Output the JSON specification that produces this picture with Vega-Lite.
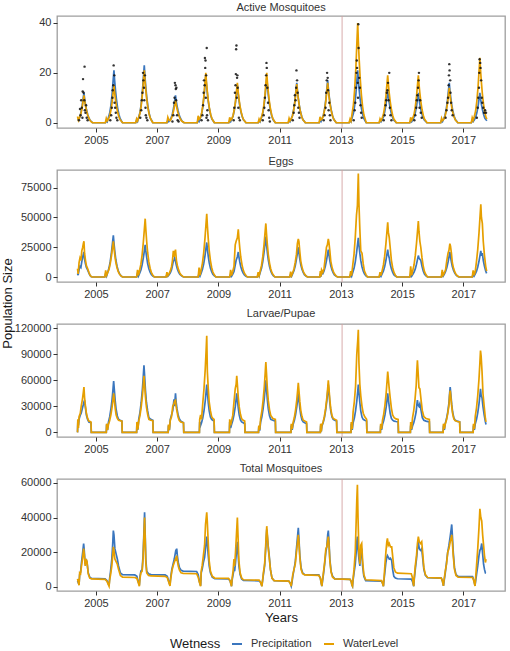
{
"$schema":"https://vega.github.io/schema/vega-lite/v6.json",
"padding":{"left":0,"top":0,"right":2,"bottom":0},
"spacing":42,
"bounds":"flush",
"datasets":{
"vline":[{"t":2013.04}],
"act":[
{"t":2004.4,"P":1,"W":2.5},{"t":2004.43,"P":1.5,"W":1},{"t":2004.47,"P":2,"W":2.2},{"t":2004.51,"P":4,"W":3.6},{"t":2004.55,"P":6.6,"W":6},{"t":2004.58,"P":9.4,"W":8.6},{"t":2004.61,"P":12,"W":11},{"t":2004.63,"P":9.8,"W":9},{"t":2004.66,"P":7.4,"W":6.8},{"t":2004.69,"P":5.4,"W":5},{"t":2004.73,"P":3.4,"W":3.1},{"t":2004.77,"P":1.9,"W":1.8},{"t":2004.81,"P":1,"W":0.9},{"t":2004.86,"P":0.4,"W":0.3},{"t":2004.89,"P":0,"W":0},
{"t":2005.31,"P":0,"W":0},{"t":2005.34,"P":0.8,"W":1.8},{"t":2005.37,"P":0.4,"W":0.8},{"t":2005.41,"P":2.1,"W":1.5},{"t":2005.45,"P":3.8,"W":2.7},{"t":2005.49,"P":6.9,"W":5},{"t":2005.53,"P":11.5,"W":8.2},{"t":2005.56,"P":16.4,"W":11.7},{"t":2005.59,"P":21,"W":15},{"t":2005.61,"P":17.2,"W":12.3},{"t":2005.64,"P":13,"W":9.3},{"t":2005.67,"P":9.5,"W":6.8},{"t":2005.71,"P":5.9,"W":4.2},{"t":2005.75,"P":3.4,"W":2.4},{"t":2005.79,"P":1.7,"W":1.2},{"t":2005.84,"P":0.6,"W":0.5},{"t":2005.87,"P":0,"W":0},
{"t":2006.3,"P":0,"W":0},{"t":2006.33,"P":1,"W":1.6},{"t":2006.36,"P":0.5,"W":0.8},{"t":2006.4,"P":2.3,"W":2.1},{"t":2006.44,"P":4.1,"W":3.8},{"t":2006.48,"P":7.6,"W":6.9},{"t":2006.52,"P":12.7,"W":11.6},{"t":2006.55,"P":17.9,"W":16.4},{"t":2006.58,"P":23,"W":21},{"t":2006.6,"P":18.9,"W":17.2},{"t":2006.63,"P":14.3,"W":13},{"t":2006.66,"P":10.4,"W":9.5},{"t":2006.7,"P":6.4,"W":5.9},{"t":2006.74,"P":3.7,"W":3.4},{"t":2006.78,"P":1.8,"W":1.7},{"t":2006.83,"P":0.7,"W":0.6},{"t":2006.86,"P":0,"W":0},
{"t":2007.32,"P":0,"W":0},{"t":2007.35,"P":1,"W":2.2},{"t":2007.38,"P":0.5,"W":1.2},{"t":2007.42,"P":1.1,"W":0.9},{"t":2007.46,"P":2,"W":1.6},{"t":2007.5,"P":3.6,"W":3},{"t":2007.54,"P":6,"W":5},{"t":2007.57,"P":8.6,"W":7},{"t":2007.6,"P":11,"W":9},{"t":2007.62,"P":9,"W":7.4},{"t":2007.65,"P":6.8,"W":5.6},{"t":2007.68,"P":5,"W":4},{"t":2007.72,"P":3.1,"W":2.5},{"t":2007.76,"P":1.8,"W":1.4},{"t":2007.8,"P":0.9,"W":0.7},{"t":2007.85,"P":0.3,"W":0.3},{"t":2007.88,"P":0,"W":0},
{"t":2008.31,"P":0,"W":0},{"t":2008.34,"P":1,"W":2.8},{"t":2008.37,"P":0.5,"W":1.4},{"t":2008.41,"P":1.9,"W":2},{"t":2008.45,"P":3.4,"W":3.6},{"t":2008.49,"P":6.3,"W":6.6},{"t":2008.53,"P":10.5,"W":11},{"t":2008.56,"P":14.8,"W":15.6},{"t":2008.59,"P":19,"W":20},{"t":2008.61,"P":15.6,"W":16.4},{"t":2008.64,"P":11.8,"W":12.4},{"t":2008.67,"P":8.6,"W":9},{"t":2008.71,"P":5.3,"W":5.6},{"t":2008.75,"P":3,"W":3.2},{"t":2008.79,"P":1.5,"W":1.6},{"t":2008.84,"P":0.6,"W":0.6},{"t":2008.87,"P":0,"W":0},
{"t":2009.34,"P":0,"W":0},{"t":2009.37,"P":0.8,"W":2.2},{"t":2009.4,"P":0.4,"W":1},{"t":2009.44,"P":1.5,"W":1.6},{"t":2009.48,"P":2.7,"W":2.9},{"t":2009.52,"P":5,"W":5.3},{"t":2009.56,"P":8.3,"W":8.8},{"t":2009.59,"P":11.7,"W":12.5},{"t":2009.62,"P":15,"W":16},{"t":2009.64,"P":12.3,"W":13.1},{"t":2009.67,"P":9.3,"W":9.9},{"t":2009.7,"P":6.8,"W":7.2},{"t":2009.74,"P":4.2,"W":4.5},{"t":2009.78,"P":2.4,"W":2.6},{"t":2009.82,"P":1.2,"W":1.3},{"t":2009.87,"P":0.5,"W":0.5},{"t":2009.9,"P":0,"W":0},
{"t":2010.3,"P":0,"W":0},{"t":2010.33,"P":0.8,"W":1.5},{"t":2010.36,"P":0.4,"W":0.7},{"t":2010.4,"P":1.8,"W":2},{"t":2010.44,"P":3.2,"W":3.6},{"t":2010.48,"P":5.9,"W":6.6},{"t":2010.52,"P":9.9,"W":11},{"t":2010.55,"P":14,"W":15.6},{"t":2010.58,"P":18,"W":20},{"t":2010.6,"P":14.8,"W":16.4},{"t":2010.63,"P":11.2,"W":12.4},{"t":2010.66,"P":8.1,"W":9},{"t":2010.7,"P":5,"W":5.6},{"t":2010.74,"P":2.9,"W":3.2},{"t":2010.78,"P":1.4,"W":1.6},{"t":2010.83,"P":0.5,"W":0.6},{"t":2010.86,"P":0,"W":0},
{"t":2011.28,"P":0,"W":0},{"t":2011.31,"P":0.8,"W":1.8},{"t":2011.34,"P":0.4,"W":0.8},{"t":2011.38,"P":1.6,"W":1.6},{"t":2011.42,"P":2.9,"W":2.8},{"t":2011.46,"P":5.3,"W":5.1},{"t":2011.5,"P":8.8,"W":8.5},{"t":2011.53,"P":12.5,"W":12.1},{"t":2011.56,"P":16,"W":15.5},{"t":2011.58,"P":13.1,"W":12.7},{"t":2011.61,"P":9.9,"W":9.6},{"t":2011.64,"P":7.2,"W":7},{"t":2011.68,"P":4.5,"W":4.3},{"t":2011.72,"P":2.6,"W":2.5},{"t":2011.76,"P":1.3,"W":1.2},{"t":2011.81,"P":0.5,"W":0.5},{"t":2011.84,"P":0,"W":0},
{"t":2012.29,"P":0,"W":0},{"t":2012.32,"P":1,"W":2.4},{"t":2012.35,"P":0.5,"W":1.2},{"t":2012.39,"P":1.7,"W":1.6},{"t":2012.43,"P":3.1,"W":2.9},{"t":2012.47,"P":5.6,"W":5.3},{"t":2012.51,"P":9.4,"W":8.8},{"t":2012.54,"P":13.3,"W":12.5},{"t":2012.57,"P":17,"W":16},{"t":2012.59,"P":13.9,"W":13.1},{"t":2012.62,"P":10.5,"W":9.9},{"t":2012.65,"P":7.7,"W":7.2},{"t":2012.69,"P":4.8,"W":4.5},{"t":2012.73,"P":2.7,"W":2.6},{"t":2012.77,"P":1.4,"W":1.3},{"t":2012.82,"P":0.5,"W":0.5},{"t":2012.85,"P":0,"W":0},
{"t":2013.27,"P":0,"W":0},{"t":2013.3,"P":0.8,"W":1.5},{"t":2013.33,"P":0.4,"W":0.7},{"t":2013.37,"P":2.1,"W":4},{"t":2013.41,"P":3.8,"W":7.2},{"t":2013.45,"P":6.9,"W":13.2},{"t":2013.49,"P":11.5,"W":22},{"t":2013.52,"P":16.4,"W":31.2},{"t":2013.55,"P":21,"W":40},{"t":2013.57,"P":17.2,"W":32.8},{"t":2013.6,"P":13,"W":24.8},{"t":2013.63,"P":9.5,"W":18},{"t":2013.67,"P":5.9,"W":11.2},{"t":2013.71,"P":3.4,"W":6.4},{"t":2013.75,"P":1.7,"W":3.2},{"t":2013.8,"P":0.6,"W":1.2},{"t":2013.83,"P":0,"W":0},
{"t":2014.25,"P":0,"W":0},{"t":2014.28,"P":0.8,"W":1.6},{"t":2014.31,"P":0.4,"W":0.8},{"t":2014.35,"P":1.3,"W":1.9},{"t":2014.39,"P":2.3,"W":3.4},{"t":2014.43,"P":4.3,"W":6.3},{"t":2014.47,"P":7.2,"W":10.5},{"t":2014.5,"P":10.1,"W":14.8},{"t":2014.53,"P":13,"W":19},{"t":2014.55,"P":10.7,"W":15.6},{"t":2014.58,"P":8.1,"W":11.8},{"t":2014.61,"P":5.9,"W":8.6},{"t":2014.65,"P":3.6,"W":5.3},{"t":2014.69,"P":2.1,"W":3},{"t":2014.73,"P":1,"W":1.5},{"t":2014.78,"P":0.4,"W":0.6},{"t":2014.81,"P":0,"W":0},
{"t":2015.25,"P":0,"W":0},{"t":2015.28,"P":0.8,"W":2.2},{"t":2015.31,"P":0.4,"W":1},{"t":2015.35,"P":1.2,"W":1.9},{"t":2015.39,"P":2.2,"W":3.4},{"t":2015.43,"P":4,"W":6.3},{"t":2015.47,"P":6.6,"W":10.5},{"t":2015.5,"P":9.4,"W":14.8},{"t":2015.53,"P":12,"W":19},{"t":2015.55,"P":9.8,"W":15.6},{"t":2015.58,"P":7.4,"W":11.8},{"t":2015.61,"P":5.4,"W":8.6},{"t":2015.65,"P":3.4,"W":5.3},{"t":2015.69,"P":1.9,"W":3},{"t":2015.73,"P":1,"W":1.5},{"t":2015.78,"P":0.4,"W":0.6},{"t":2015.81,"P":0,"W":0},
{"t":2016.26,"P":0,"W":0},{"t":2016.29,"P":1,"W":1.8},{"t":2016.32,"P":0.5,"W":0.9},{"t":2016.36,"P":1.6,"W":1.4},{"t":2016.4,"P":2.9,"W":2.5},{"t":2016.44,"P":5.3,"W":4.6},{"t":2016.48,"P":8.8,"W":7.7},{"t":2016.51,"P":12.5,"W":10.9},{"t":2016.54,"P":16,"W":14},{"t":2016.56,"P":13.1,"W":11.5},{"t":2016.59,"P":9.9,"W":8.7},{"t":2016.62,"P":7.2,"W":6.3},{"t":2016.66,"P":4.5,"W":3.9},{"t":2016.7,"P":2.6,"W":2.2},{"t":2016.74,"P":1.3,"W":1.1},{"t":2016.79,"P":0.5,"W":0.4},{"t":2016.82,"P":0,"W":0},
{"t":2017.26,"P":0,"W":0},{"t":2017.29,"P":1,"W":2},{"t":2017.32,"P":0.5,"W":1},{"t":2017.36,"P":1.2,"W":2.6},{"t":2017.4,"P":2.2,"W":4.7},{"t":2017.44,"P":4,"W":8.6},{"t":2017.48,"P":6.6,"W":14.3},{"t":2017.51,"P":9.4,"W":20.3},{"t":2017.54,"P":12,"W":26},{"t":2017.56,"P":9.8,"W":21.3},{"t":2017.59,"P":7.4,"W":16.1},{"t":2017.62,"P":5.4,"W":11.7},{"t":2017.66,"P":3.4,"W":7.3},{"t":2017.7,"P":1.9,"W":4.2},{"t":2017.74,"P":1.2,"W":2.1},{"t":2017.77,"P":0.8,"W":1.5}
],
"obs":[
{"t":2004.45,"n":1},{"t":2004.48,"n":5.5},{"t":2004.5,"n":3},{"t":2004.52,"n":9},{"t":2004.54,"n":6},{"t":2004.56,"n":2},{"t":2004.57,"n":12.5},{"t":2004.58,"n":17.5},{"t":2004.6,"n":12},{"t":2004.62,"n":9},{"t":2004.63,"n":22.5},{"t":2004.64,"n":5},{"t":2004.66,"n":4},{"t":2004.68,"n":7},{"t":2004.7,"n":2},{"t":2004.73,"n":1},
{"t":2005.47,"n":1},{"t":2005.5,"n":3},{"t":2005.52,"n":6},{"t":2005.54,"n":10},{"t":2005.55,"n":13},{"t":2005.57,"n":15},{"t":2005.58,"n":23},{"t":2005.6,"n":19},{"t":2005.61,"n":8},{"t":2005.63,"n":6},{"t":2005.65,"n":4},{"t":2005.67,"n":2},{"t":2005.7,"n":1},
{"t":2006.45,"n":2},{"t":2006.48,"n":5},{"t":2006.5,"n":9},{"t":2006.52,"n":12},{"t":2006.54,"n":20},{"t":2006.55,"n":17},{"t":2006.57,"n":14},{"t":2006.58,"n":9},{"t":2006.6,"n":19},{"t":2006.62,"n":6},{"t":2006.63,"n":3},{"t":2006.65,"n":2},{"t":2006.68,"n":1},
{"t":2007.5,"n":0.5},{"t":2007.53,"n":3},{"t":2007.55,"n":8},{"t":2007.57,"n":10},{"t":2007.58,"n":16},{"t":2007.6,"n":15},{"t":2007.61,"n":13.5},{"t":2007.62,"n":9},{"t":2007.63,"n":14},{"t":2007.65,"n":3},{"t":2007.67,"n":1},{"t":2007.7,"n":0.5},
{"t":2008.45,"n":1},{"t":2008.48,"n":3},{"t":2008.5,"n":7},{"t":2008.52,"n":12},{"t":2008.53,"n":17},{"t":2008.55,"n":15},{"t":2008.56,"n":26},{"t":2008.57,"n":22},{"t":2008.58,"n":25},{"t":2008.59,"n":10},{"t":2008.6,"n":19},{"t":2008.61,"n":2},{"t":2008.62,"n":30},{"t":2008.63,"n":3},{"t":2008.64,"n":5},{"t":2008.66,"n":1},
{"t":2009.5,"n":1},{"t":2009.52,"n":6},{"t":2009.54,"n":12},{"t":2009.56,"n":15},{"t":2009.57,"n":19.5},{"t":2009.58,"n":29.5},{"t":2009.59,"n":31},{"t":2009.6,"n":10},{"t":2009.61,"n":18},{"t":2009.62,"n":19},{"t":2009.63,"n":14},{"t":2009.65,"n":6},{"t":2009.67,"n":2},{"t":2009.7,"n":1},
{"t":2010.45,"n":1},{"t":2010.48,"n":3},{"t":2010.5,"n":6},{"t":2010.52,"n":10},{"t":2010.54,"n":15},{"t":2010.56,"n":19},{"t":2010.57,"n":24},{"t":2010.58,"n":22},{"t":2010.6,"n":14},{"t":2010.62,"n":8},{"t":2010.64,"n":5},{"t":2010.66,"n":2},{"t":2010.68,"n":0.5},
{"t":2011.43,"n":1},{"t":2011.46,"n":4},{"t":2011.48,"n":7},{"t":2011.5,"n":11},{"t":2011.52,"n":9},{"t":2011.54,"n":14},{"t":2011.55,"n":21},{"t":2011.57,"n":17},{"t":2011.59,"n":12},{"t":2011.61,"n":6},{"t":2011.63,"n":4},{"t":2011.65,"n":2},
{"t":2012.44,"n":1},{"t":2012.47,"n":3},{"t":2012.5,"n":6},{"t":2012.52,"n":12},{"t":2012.54,"n":17},{"t":2012.55,"n":20},{"t":2012.57,"n":18},{"t":2012.58,"n":13},{"t":2012.6,"n":5},{"t":2012.62,"n":8},{"t":2012.64,"n":3},{"t":2012.66,"n":1},
{"t":2013.42,"n":1},{"t":2013.45,"n":5},{"t":2013.47,"n":8},{"t":2013.49,"n":14},{"t":2013.51,"n":20},{"t":2013.52,"n":25},{"t":2013.53,"n":22},{"t":2013.55,"n":16},{"t":2013.56,"n":10},{"t":2013.57,"n":39.5},{"t":2013.58,"n":30},{"t":2013.6,"n":18},{"t":2013.62,"n":14},{"t":2013.64,"n":7},{"t":2013.66,"n":4},{"t":2013.68,"n":2},
{"t":2014.4,"n":1},{"t":2014.43,"n":3},{"t":2014.46,"n":7},{"t":2014.48,"n":9},{"t":2014.5,"n":12},{"t":2014.52,"n":13},{"t":2014.54,"n":16},{"t":2014.56,"n":9},{"t":2014.58,"n":20},{"t":2014.6,"n":6},{"t":2014.62,"n":3},{"t":2014.65,"n":1},
{"t":2015.4,"n":1},{"t":2015.43,"n":3},{"t":2015.46,"n":6},{"t":2015.48,"n":9},{"t":2015.5,"n":11},{"t":2015.52,"n":14},{"t":2015.54,"n":17},{"t":2015.55,"n":20},{"t":2015.57,"n":6},{"t":2015.59,"n":9},{"t":2015.61,"n":4},{"t":2015.64,"n":2},
{"t":2016.42,"n":2},{"t":2016.45,"n":5},{"t":2016.48,"n":8},{"t":2016.5,"n":10},{"t":2016.52,"n":15},{"t":2016.53,"n":19},{"t":2016.54,"n":23.5},{"t":2016.55,"n":21},{"t":2016.57,"n":17},{"t":2016.58,"n":12},{"t":2016.6,"n":8},{"t":2016.62,"n":5},{"t":2016.65,"n":3},
{"t":2017.44,"n":2},{"t":2017.47,"n":6},{"t":2017.49,"n":10},{"t":2017.51,"n":14},{"t":2017.52,"n":20},{"t":2017.53,"n":25.5},{"t":2017.55,"n":24},{"t":2017.56,"n":22},{"t":2017.58,"n":17},{"t":2017.6,"n":10},{"t":2017.62,"n":8},{"t":2017.65,"n":6},{"t":2017.68,"n":4},{"t":2017.71,"n":5},{"t":2017.74,"n":4}
],
"egg":[
{"t":2004.4,"P":3000,"W":7000},{"t":2004.42,"P":1500,"W":2500},{"t":2004.45,"P":6000,"W":12000},{"t":2004.48,"P":9000,"W":16000},{"t":2004.51,"P":8000,"W":14000},{"t":2004.54,"P":13000,"W":22000},{"t":2004.57,"P":17000,"W":25000},{"t":2004.59,"P":19000,"W":28000},{"t":2004.61,"P":21000,"W":30000},{"t":2004.63,"P":15000,"W":20000},{"t":2004.66,"P":11000,"W":14000},{"t":2004.69,"P":8000,"W":9500},{"t":2004.73,"P":6000,"W":7000},{"t":2004.77,"P":3500,"W":4000},{"t":2004.81,"P":1200,"W":1500},{"t":2004.85,"P":200,"W":300},{"t":2004.88,"P":0,"W":0},
{"t":2005.29,"P":0,"W":0},{"t":2005.32,"P":3000,"W":5500},{"t":2005.35,"P":800,"W":1500},{"t":2005.39,"P":4200,"W":4000},{"t":2005.43,"P":7700,"W":6600},{"t":2005.47,"P":13300,"W":11400},{"t":2005.51,"P":21000,"W":18000},{"t":2005.54,"P":28000,"W":24000},{"t":2005.57,"P":35000,"W":30000},{"t":2005.59,"P":28700,"W":24600},{"t":2005.62,"P":21000,"W":18000},{"t":2005.65,"P":14700,"W":12600},{"t":2005.69,"P":9100,"W":7800},{"t":2005.73,"P":5200,"W":4500},{"t":2005.77,"P":2800,"W":2400},{"t":2005.82,"P":1000,"W":900},{"t":2005.87,"P":0,"W":0},
{"t":2006.33,"P":0,"W":0},{"t":2006.36,"P":3000,"W":6000},{"t":2006.39,"P":800,"W":1500},{"t":2006.43,"P":3200,"W":5900},{"t":2006.47,"P":5900,"W":10800},{"t":2006.51,"P":10300,"W":18600},{"t":2006.55,"P":16200,"W":29400},{"t":2006.58,"P":21600,"W":39200},{"t":2006.61,"P":27000,"W":49000},{"t":2006.63,"P":22100,"W":40200},{"t":2006.66,"P":16200,"W":29400},{"t":2006.69,"P":11300,"W":20600},{"t":2006.73,"P":7000,"W":12700},{"t":2006.77,"P":4000,"W":7400},{"t":2006.81,"P":2200,"W":3900},{"t":2006.86,"P":800,"W":1500},{"t":2006.91,"P":0,"W":0},
{"t":2007.29,"P":0,"W":0},{"t":2007.32,"P":2000,"W":4000},{"t":2007.35,"P":600,"W":1200},{"t":2007.39,"P":1900,"W":2800},{"t":2007.43,"P":3500,"W":5100},{"t":2007.47,"P":6100,"W":8700},{"t":2007.5,"P":9600,"W":13800},{"t":2007.53,"P":13500,"W":22000},{"t":2007.55,"P":14000,"W":17000},{"t":2007.57,"P":16000,"W":20000},{"t":2007.6,"P":13100,"W":23000},{"t":2007.63,"P":9600,"W":13800},{"t":2007.66,"P":6700,"W":9700},{"t":2007.7,"P":4200,"W":6000},{"t":2007.74,"P":2400,"W":3500},{"t":2007.78,"P":1300,"W":1800},{"t":2007.83,"P":500,"W":700},{"t":2007.87,"P":0,"W":0},
{"t":2008.34,"P":0,"W":0},{"t":2008.37,"P":3000,"W":8000},{"t":2008.4,"P":800,"W":1500},{"t":2008.44,"P":3500,"W":6400},{"t":2008.48,"P":6400,"W":11700},{"t":2008.52,"P":11000,"W":20100},{"t":2008.56,"P":17400,"W":31800},{"t":2008.59,"P":23200,"W":42400},{"t":2008.62,"P":29000,"W":53000},{"t":2008.64,"P":23800,"W":43500},{"t":2008.67,"P":17400,"W":31800},{"t":2008.7,"P":12200,"W":22300},{"t":2008.74,"P":7500,"W":13800},{"t":2008.78,"P":4400,"W":8000},{"t":2008.82,"P":2300,"W":4200},{"t":2008.87,"P":900,"W":1600},{"t":2008.92,"P":0,"W":0},
{"t":2009.37,"P":0,"W":0},{"t":2009.4,"P":2000,"W":6000},{"t":2009.43,"P":600,"W":1200},{"t":2009.47,"P":2500,"W":4800},{"t":2009.51,"P":4600,"W":8800},{"t":2009.55,"P":10000,"W":27000},{"t":2009.58,"P":14000,"W":30000},{"t":2009.62,"P":17000,"W":33000},{"t":2009.65,"P":21000,"W":40000},{"t":2009.67,"P":17200,"W":32800},{"t":2009.7,"P":12600,"W":24000},{"t":2009.73,"P":8800,"W":16800},{"t":2009.77,"P":5500,"W":10400},{"t":2009.81,"P":3200,"W":6000},{"t":2009.85,"P":1700,"W":3200},{"t":2009.9,"P":600,"W":1200},{"t":2009.95,"P":0,"W":0},
{"t":2010.27,"P":0,"W":0},{"t":2010.3,"P":2000,"W":4000},{"t":2010.33,"P":600,"W":1200},{"t":2010.37,"P":4100,"W":5400},{"t":2010.41,"P":7500,"W":9900},{"t":2010.45,"P":12900,"W":17100},{"t":2010.49,"P":20400,"W":27000},{"t":2010.52,"P":27200,"W":36000},{"t":2010.55,"P":34000,"W":45000},{"t":2010.57,"P":27900,"W":36900},{"t":2010.6,"P":20400,"W":27000},{"t":2010.63,"P":14300,"W":18900},{"t":2010.67,"P":8800,"W":11700},{"t":2010.71,"P":5100,"W":6800},{"t":2010.75,"P":2700,"W":3600},{"t":2010.8,"P":1000,"W":1400},{"t":2010.85,"P":0,"W":0},
{"t":2011.33,"P":0,"W":0},{"t":2011.36,"P":2000,"W":4500},{"t":2011.39,"P":600,"W":1300},{"t":2011.43,"P":3000,"W":3800},{"t":2011.47,"P":5500,"W":7000},{"t":2011.51,"P":9500,"W":12200},{"t":2011.55,"P":15000,"W":19200},{"t":2011.58,"P":20000,"W":28000},{"t":2011.61,"P":25000,"W":32000},{"t":2011.63,"P":20500,"W":30000},{"t":2011.66,"P":15000,"W":21000},{"t":2011.69,"P":10500,"W":13400},{"t":2011.73,"P":6500,"W":8300},{"t":2011.77,"P":3800,"W":4800},{"t":2011.81,"P":2000,"W":2600},{"t":2011.86,"P":800,"W":1000},{"t":2011.91,"P":0,"W":0},
{"t":2012.31,"P":0,"W":0},{"t":2012.33,"P":2500,"W":5000},{"t":2012.35,"P":300,"W":500},{"t":2012.37,"P":3000,"W":6000},{"t":2012.41,"P":2800,"W":3800},{"t":2012.45,"P":5100,"W":7000},{"t":2012.49,"P":8700,"W":16000},{"t":2012.53,"P":13800,"W":25000},{"t":2012.56,"P":18400,"W":27000},{"t":2012.59,"P":23000,"W":32000},{"t":2012.61,"P":18900,"W":29000},{"t":2012.64,"P":13800,"W":22000},{"t":2012.67,"P":9700,"W":13400},{"t":2012.71,"P":6000,"W":8300},{"t":2012.75,"P":3500,"W":4800},{"t":2012.79,"P":1800,"W":2600},{"t":2012.84,"P":700,"W":1000},{"t":2012.89,"P":0,"W":0},
{"t":2013.29,"P":0,"W":0},{"t":2013.32,"P":2000,"W":5000},{"t":2013.35,"P":600,"W":1200},{"t":2013.39,"P":4000,"W":10400},{"t":2013.43,"P":7300,"W":19100},{"t":2013.47,"P":12500,"W":33100},{"t":2013.51,"P":19800,"W":52000},{"t":2013.54,"P":26400,"W":60000},{"t":2013.57,"P":33000,"W":87000},{"t":2013.59,"P":27100,"W":62000},{"t":2013.62,"P":19800,"W":40000},{"t":2013.65,"P":13900,"W":22000},{"t":2013.69,"P":8600,"W":20000},{"t":2013.73,"P":5000,"W":11000},{"t":2013.77,"P":2600,"W":5000},{"t":2013.82,"P":1000,"W":2000},{"t":2013.87,"P":0,"W":0},
{"t":2014.25,"P":0,"W":0},{"t":2014.28,"P":2000,"W":4000},{"t":2014.31,"P":600,"W":1200},{"t":2014.35,"P":2800,"W":5500},{"t":2014.39,"P":5100,"W":10100},{"t":2014.43,"P":8700,"W":17500},{"t":2014.47,"P":13800,"W":27600},{"t":2014.5,"P":18400,"W":36800},{"t":2014.53,"P":23000,"W":46000},{"t":2014.55,"P":18900,"W":37700},{"t":2014.58,"P":16000,"W":33000},{"t":2014.61,"P":11000,"W":25000},{"t":2014.65,"P":7000,"W":14000},{"t":2014.69,"P":4000,"W":8000},{"t":2014.73,"P":2000,"W":4000},{"t":2014.78,"P":800,"W":1500},{"t":2014.83,"P":0,"W":0},
{"t":2015.25,"P":0,"W":0},{"t":2015.28,"P":2000,"W":9000},{"t":2015.31,"P":600,"W":1500},{"t":2015.35,"P":2200,"W":5600},{"t":2015.39,"P":4000,"W":10300},{"t":2015.43,"P":6800,"W":17900},{"t":2015.47,"P":10800,"W":28200},{"t":2015.5,"P":14400,"W":37600},{"t":2015.53,"P":18000,"W":47000},{"t":2015.55,"P":16000,"W":38500},{"t":2015.58,"P":15000,"W":30000},{"t":2015.61,"P":14000,"W":25000},{"t":2015.65,"P":9000,"W":16000},{"t":2015.69,"P":5000,"W":9000},{"t":2015.73,"P":2500,"W":4500},{"t":2015.78,"P":1000,"W":1800},{"t":2015.83,"P":0,"W":0},
{"t":2016.28,"P":0,"W":0},{"t":2016.31,"P":2500,"W":6000},{"t":2016.34,"P":700,"W":1500},{"t":2016.38,"P":2500,"W":3400},{"t":2016.42,"P":4600,"W":6200},{"t":2016.46,"P":8000,"W":14000},{"t":2016.5,"P":12600,"W":20000},{"t":2016.53,"P":16800,"W":22400},{"t":2016.56,"P":21000,"W":28000},{"t":2016.58,"P":17200,"W":26000},{"t":2016.61,"P":12600,"W":20000},{"t":2016.64,"P":8800,"W":12000},{"t":2016.68,"P":5500,"W":7300},{"t":2016.72,"P":3200,"W":4200},{"t":2016.76,"P":1700,"W":2200},{"t":2016.81,"P":600,"W":800},{"t":2016.86,"P":0,"W":0},
{"t":2017.29,"P":0,"W":0},{"t":2017.32,"P":2500,"W":5500},{"t":2017.35,"P":700,"W":1500},{"t":2017.39,"P":2600,"W":5000},{"t":2017.43,"P":4800,"W":13400},{"t":2017.47,"P":8400,"W":23200},{"t":2017.51,"P":13200,"W":36600},{"t":2017.54,"P":17600,"W":48800},{"t":2017.57,"P":22000,"W":61000},{"t":2017.59,"P":18000,"W":50000},{"t":2017.62,"P":20000,"W":45000},{"t":2017.65,"P":14000,"W":30000},{"t":2017.69,"P":9000,"W":18000},{"t":2017.73,"P":5000,"W":9000},{"t":2017.76,"P":3000,"W":5000}
],
"lar":[
{"t":2004.4,"P":0,"W":0},{"t":2004.41,"P":12000,"W":15000},{"t":2004.43,"P":8000,"W":5000},{"t":2004.45,"P":15000,"W":18000},{"t":2004.49,"P":20000,"W":22000},{"t":2004.52,"P":22000,"W":30000},{"t":2004.56,"P":28000,"W":38000},{"t":2004.59,"P":32000,"W":46000},{"t":2004.61,"P":35000,"W":52000},{"t":2004.63,"P":37000,"W":40000},{"t":2004.66,"P":28000,"W":30000},{"t":2004.69,"P":20000,"W":22000},{"t":2004.73,"P":15000,"W":16000},{"t":2004.77,"P":12000,"W":13000},{"t":2004.81,"P":11500,"W":12500},{"t":2004.84,"P":11000,"W":12000},{"t":2004.85,"P":0,"W":0},
{"t":2005.34,"P":0,"W":0},{"t":2005.35,"P":9000,"W":10000},{"t":2005.38,"P":2500,"W":3000},{"t":2005.41,"P":11800,"W":9000},{"t":2005.45,"P":17700,"W":13500},{"t":2005.49,"P":26600,"W":20300},{"t":2005.53,"P":38400,"W":29300},{"t":2005.56,"P":50200,"W":38300},{"t":2005.58,"P":59000,"W":45000},{"t":2005.6,"P":50200,"W":38300},{"t":2005.63,"P":36600,"W":27900},{"t":2005.66,"P":26600,"W":20300},{"t":2005.7,"P":18900,"W":16000},{"t":2005.74,"P":15000,"W":14000},{"t":2005.79,"P":14000,"W":13500},{"t":2005.85,"P":13000,"W":13000},{"t":2005.86,"P":0,"W":0},
{"t":2006.33,"P":0,"W":0},{"t":2006.34,"P":10000,"W":12000},{"t":2006.37,"P":3000,"W":3500},{"t":2006.4,"P":15400,"W":13000},{"t":2006.44,"P":23100,"W":19500},{"t":2006.48,"P":34700,"W":29300},{"t":2006.52,"P":50100,"W":42300},{"t":2006.55,"P":65500,"W":55300},{"t":2006.57,"P":77000,"W":65000},{"t":2006.59,"P":65500,"W":55300},{"t":2006.62,"P":47700,"W":40300},{"t":2006.65,"P":34700,"W":29300},{"t":2006.69,"P":24600,"W":20800},{"t":2006.73,"P":17000,"W":15000},{"t":2006.79,"P":15000,"W":14000},{"t":2006.86,"P":14000,"W":13500},{"t":2006.87,"P":0,"W":0},
{"t":2007.36,"P":0,"W":0},{"t":2007.37,"P":8000,"W":9000},{"t":2007.4,"P":2500,"W":3000},{"t":2007.43,"P":15000,"W":14000},{"t":2007.47,"P":20000,"W":18000},{"t":2007.51,"P":25000,"W":30000},{"t":2007.55,"P":38000,"W":33000},{"t":2007.57,"P":30000,"W":36000},{"t":2007.6,"P":45000,"W":37000},{"t":2007.62,"P":35000,"W":30000},{"t":2007.65,"P":27000,"W":24000},{"t":2007.68,"P":21000,"W":18000},{"t":2007.72,"P":16000,"W":14000},{"t":2007.77,"P":13000,"W":12000},{"t":2007.82,"P":12000,"W":11500},{"t":2007.86,"P":11000,"W":11000},{"t":2007.87,"P":0,"W":0},
{"t":2008.38,"P":0,"W":0},{"t":2008.39,"P":12000,"W":15000},{"t":2008.42,"P":8000,"W":20000},{"t":2008.45,"P":11000,"W":15000},{"t":2008.49,"P":16500,"W":33300},{"t":2008.53,"P":24800,"W":50000},{"t":2008.57,"P":35800,"W":72200},{"t":2008.6,"P":46800,"W":94400},{"t":2008.62,"P":55000,"W":111000},{"t":2008.64,"P":46800,"W":70000},{"t":2008.67,"P":34100,"W":50000},{"t":2008.7,"P":24800,"W":35000},{"t":2008.74,"P":17600,"W":25000},{"t":2008.78,"P":15000,"W":18000},{"t":2008.82,"P":14000,"W":16000},{"t":2008.86,"P":13000,"W":15000},{"t":2008.87,"P":0,"W":0},
{"t":2009.36,"P":0,"W":0},{"t":2009.37,"P":12000,"W":15000},{"t":2009.4,"P":5000,"W":8000},{"t":2009.43,"P":9000,"W":13000},{"t":2009.47,"P":13500,"W":19500},{"t":2009.51,"P":20300,"W":35000},{"t":2009.55,"P":29300,"W":50000},{"t":2009.58,"P":38300,"W":55300},{"t":2009.6,"P":45000,"W":65000},{"t":2009.62,"P":38300,"W":55300},{"t":2009.65,"P":27900,"W":40300},{"t":2009.68,"P":20300,"W":29300},{"t":2009.72,"P":14400,"W":20800},{"t":2009.76,"P":12000,"W":15600},{"t":2009.81,"P":11000,"W":14000},{"t":2009.86,"P":10000,"W":13000},{"t":2009.87,"P":0,"W":0},
{"t":2010.31,"P":0,"W":0},{"t":2010.32,"P":6000,"W":8000},{"t":2010.35,"P":2000,"W":3000},{"t":2010.38,"P":12000,"W":16200},{"t":2010.42,"P":18000,"W":24300},{"t":2010.46,"P":27000,"W":36500},{"t":2010.5,"P":39000,"W":52700},{"t":2010.53,"P":51000,"W":68900},{"t":2010.55,"P":60000,"W":81000},{"t":2010.57,"P":51000,"W":68900},{"t":2010.6,"P":37200,"W":50200},{"t":2010.63,"P":27000,"W":36500},{"t":2010.67,"P":19200,"W":25900},{"t":2010.71,"P":15000,"W":19400},{"t":2010.78,"P":14000,"W":16000},{"t":2010.86,"P":13000,"W":15000},{"t":2010.87,"P":0,"W":0},
{"t":2011.37,"P":0,"W":0},{"t":2011.38,"P":8000,"W":10000},{"t":2011.41,"P":3000,"W":4000},{"t":2011.44,"P":9000,"W":11400},{"t":2011.48,"P":13500,"W":17100},{"t":2011.52,"P":20300,"W":25700},{"t":2011.56,"P":29300,"W":37100},{"t":2011.59,"P":38300,"W":48500},{"t":2011.61,"P":45000,"W":57000},{"t":2011.63,"P":38300,"W":48500},{"t":2011.66,"P":27900,"W":35300},{"t":2011.69,"P":20300,"W":25700},{"t":2011.73,"P":14400,"W":18200},{"t":2011.77,"P":12000,"W":14000},{"t":2011.82,"P":11000,"W":13000},{"t":2011.88,"P":10000,"W":12000},{"t":2011.89,"P":0,"W":0},
{"t":2012.33,"P":0,"W":0},{"t":2012.34,"P":8000,"W":10000},{"t":2012.36,"P":1000,"W":1000},{"t":2012.38,"P":7000,"W":8000},{"t":2012.42,"P":11000,"W":12000},{"t":2012.46,"P":16500,"W":18000},{"t":2012.5,"P":24800,"W":27000},{"t":2012.54,"P":35800,"W":39000},{"t":2012.57,"P":46800,"W":51000},{"t":2012.59,"P":55000,"W":60000},{"t":2012.61,"P":46800,"W":51000},{"t":2012.64,"P":34100,"W":37200},{"t":2012.67,"P":24800,"W":27000},{"t":2012.71,"P":17600,"W":19200},{"t":2012.75,"P":15000,"W":16000},{"t":2012.8,"P":14000,"W":15000},{"t":2012.86,"P":13000,"W":14000},{"t":2012.87,"P":0,"W":0},
{"t":2013.33,"P":0,"W":0},{"t":2013.34,"P":10000,"W":12000},{"t":2013.37,"P":3000,"W":4000},{"t":2013.4,"P":11000,"W":23600},{"t":2013.44,"P":16500,"W":35400},{"t":2013.48,"P":24800,"W":53100},{"t":2013.52,"P":35800,"W":90000},{"t":2013.55,"P":46800,"W":105000},{"t":2013.57,"P":55000,"W":118000},{"t":2013.59,"P":46800,"W":80000},{"t":2013.62,"P":34100,"W":55000},{"t":2013.65,"P":24800,"W":42000},{"t":2013.69,"P":17600,"W":30000},{"t":2013.73,"P":15000,"W":22000},{"t":2013.78,"P":14000,"W":18000},{"t":2013.84,"P":13000,"W":15000},{"t":2013.85,"P":0,"W":0},
{"t":2014.29,"P":0,"W":0},{"t":2014.3,"P":8000,"W":10000},{"t":2014.33,"P":3000,"W":4000},{"t":2014.36,"P":9000,"W":14000},{"t":2014.4,"P":13500,"W":21000},{"t":2014.44,"P":20300,"W":31500},{"t":2014.48,"P":29300,"W":45500},{"t":2014.51,"P":38300,"W":59500},{"t":2014.53,"P":45000,"W":70000},{"t":2014.55,"P":38300,"W":62000},{"t":2014.58,"P":30000,"W":50000},{"t":2014.61,"P":22000,"W":40000},{"t":2014.65,"P":16000,"W":28000},{"t":2014.69,"P":14000,"W":20000},{"t":2014.74,"P":13000,"W":17000},{"t":2014.8,"P":12500,"W":15500},{"t":2014.87,"P":12000,"W":15000},{"t":2014.88,"P":0,"W":0},
{"t":2015.27,"P":0,"W":0},{"t":2015.28,"P":8000,"W":12000},{"t":2015.31,"P":3000,"W":4000},{"t":2015.34,"P":7400,"W":16600},{"t":2015.38,"P":11100,"W":24900},{"t":2015.42,"P":16700,"W":37400},{"t":2015.46,"P":24000,"W":54000},{"t":2015.48,"P":31500,"W":70600},{"t":2015.5,"P":37000,"W":83000},{"t":2015.52,"P":31500,"W":70600},{"t":2015.55,"P":30000,"W":51500},{"t":2015.58,"P":33000,"W":50000},{"t":2015.62,"P":25000,"W":37000},{"t":2015.66,"P":17000,"W":25000},{"t":2015.71,"P":14000,"W":18000},{"t":2015.78,"P":13000,"W":16000},{"t":2015.89,"P":12000,"W":15000},{"t":2015.9,"P":0,"W":0},
{"t":2016.34,"P":0,"W":0},{"t":2016.35,"P":8000,"W":10000},{"t":2016.38,"P":3000,"W":4000},{"t":2016.41,"P":10400,"W":9600},{"t":2016.45,"P":15600,"W":14400},{"t":2016.49,"P":23400,"W":21600},{"t":2016.53,"P":33800,"W":31200},{"t":2016.55,"P":44200,"W":42000},{"t":2016.57,"P":52000,"W":48000},{"t":2016.59,"P":44200,"W":40800},{"t":2016.62,"P":32200,"W":29800},{"t":2016.65,"P":23400,"W":21600},{"t":2016.69,"P":16600,"W":15400},{"t":2016.73,"P":14000,"W":13500},{"t":2016.8,"P":13000,"W":12500},{"t":2016.88,"P":12000,"W":12000},{"t":2016.89,"P":0,"W":0},
{"t":2017.32,"P":0,"W":0},{"t":2017.33,"P":8000,"W":10000},{"t":2017.36,"P":3000,"W":4000},{"t":2017.39,"P":10000,"W":18800},{"t":2017.43,"P":15000,"W":28200},{"t":2017.47,"P":22500,"W":42300},{"t":2017.51,"P":32500,"W":61100},{"t":2017.54,"P":42500,"W":79900},{"t":2017.56,"P":50000,"W":94000},{"t":2017.58,"P":42500,"W":88000},{"t":2017.61,"P":40000,"W":70000},{"t":2017.64,"P":30000,"W":45000},{"t":2017.68,"P":20000,"W":30000},{"t":2017.72,"P":12000,"W":16000},{"t":2017.74,"P":9000,"W":12000}
],
"tot":[
{"t":2004.4,"P":3500,"W":4500},{"t":2004.45,"P":1200,"W":800},{"t":2004.47,"P":7000,"W":8000},{"t":2004.5,"P":8500,"W":7500},{"t":2004.53,"P":14000,"W":12000},{"t":2004.57,"P":20000,"W":17000},{"t":2004.6,"P":25000,"W":22000},{"t":2004.62,"P":21000,"W":19000},{"t":2004.65,"P":13000,"W":12000},{"t":2004.68,"P":16000,"W":16000},{"t":2004.71,"P":14000,"W":14500},{"t":2004.75,"P":8000,"W":7500},{"t":2004.8,"P":5500,"W":5000},{"t":2004.86,"P":4800,"W":4500},{"t":2005.3,"P":4500,"W":4200},{"t":2005.36,"P":3500,"W":3200},{"t":2005.4,"P":2000,"W":1500},{"t":2005.43,"P":500,"W":300},
{"t":2005.45,"P":5000,"W":4000},{"t":2005.48,"P":9000,"W":7000},{"t":2005.52,"P":16000,"W":12000},{"t":2005.55,"P":25000,"W":18000},{"t":2005.57,"P":32500,"W":23000},{"t":2005.59,"P":30000,"W":21000},{"t":2005.62,"P":22000,"W":16000},{"t":2005.66,"P":19000,"W":14500},{"t":2005.7,"P":16000,"W":13000},{"t":2005.74,"P":12000,"W":10000},{"t":2005.8,"P":8000,"W":6500},{"t":2005.87,"P":7000,"W":5500},{"t":2006.27,"P":6800,"W":5300},{"t":2006.34,"P":6000,"W":4800},{"t":2006.38,"P":3000,"W":2500},{"t":2006.42,"P":800,"W":300},
{"t":2006.44,"P":6000,"W":5000},{"t":2006.47,"P":9000,"W":8000},{"t":2006.51,"P":10000,"W":9000},{"t":2006.54,"P":18000,"W":16000},{"t":2006.57,"P":32000,"W":30000},{"t":2006.59,"P":43000,"W":40000},{"t":2006.61,"P":30000,"W":28000},{"t":2006.63,"P":16000,"W":14000},{"t":2006.66,"P":9000,"W":8000},{"t":2006.72,"P":7500,"W":6500},{"t":2006.8,"P":7000,"W":6200},{"t":2007.26,"P":6800,"W":6000},{"t":2007.33,"P":6000,"W":5300},{"t":2007.38,"P":3000,"W":2500},{"t":2007.42,"P":800,"W":400},
{"t":2007.44,"P":5000,"W":4000},{"t":2007.48,"P":10000,"W":9000},{"t":2007.52,"P":13000,"W":12000},{"t":2007.56,"P":16000,"W":14000},{"t":2007.6,"P":20000,"W":16000},{"t":2007.62,"P":19000,"W":15000},{"t":2007.64,"P":22000,"W":18000},{"t":2007.66,"P":18000,"W":15000},{"t":2007.69,"P":14000,"W":12000},{"t":2007.73,"P":11000,"W":9500},{"t":2007.78,"P":9500,"W":8000},{"t":2007.85,"P":9000,"W":7700},{"t":2008.29,"P":8800,"W":7500},{"t":2008.34,"P":7000,"W":5500},{"t":2008.38,"P":3000,"W":2500},{"t":2008.42,"P":500,"W":300},
{"t":2008.44,"P":8000,"W":9000},{"t":2008.47,"P":10000,"W":12000},{"t":2008.51,"P":14000,"W":18000},{"t":2008.55,"P":17000,"W":24000},{"t":2008.58,"P":22000,"W":36000},{"t":2008.62,"P":29000,"W":43000},{"t":2008.64,"P":25000,"W":37000},{"t":2008.67,"P":18000,"W":25000},{"t":2008.7,"P":12000,"W":15000},{"t":2008.74,"P":8000,"W":9000},{"t":2008.8,"P":5500,"W":6000},{"t":2008.88,"P":4600,"W":5000},{"t":2009.33,"P":4500,"W":4800},{"t":2009.38,"P":3500,"W":3500},{"t":2009.41,"P":1500,"W":1500},{"t":2009.43,"P":300,"W":300},
{"t":2009.45,"P":4000,"W":5000},{"t":2009.48,"P":7000,"W":9000},{"t":2009.51,"P":10000,"W":16000},{"t":2009.53,"P":9000,"W":12000},{"t":2009.56,"P":14000,"W":20000},{"t":2009.59,"P":20000,"W":30000},{"t":2009.62,"P":26000,"W":40000},{"t":2009.64,"P":20000,"W":30000},{"t":2009.67,"P":12000,"W":15000},{"t":2009.71,"P":7000,"W":8000},{"t":2009.76,"P":4500,"W":5000},{"t":2009.82,"P":3600,"W":4000},{"t":2010.33,"P":3400,"W":3800},{"t":2010.38,"P":2500,"W":2500},{"t":2010.41,"P":1000,"W":800},{"t":2010.42,"P":300,"W":200},
{"t":2010.44,"P":3000,"W":3000},{"t":2010.47,"P":7000,"W":8000},{"t":2010.51,"P":12000,"W":13000},{"t":2010.54,"P":20000,"W":22000},{"t":2010.56,"P":27000,"W":29000},{"t":2010.58,"P":33000,"W":35000},{"t":2010.6,"P":29000,"W":30000},{"t":2010.63,"P":23000,"W":22000},{"t":2010.66,"P":18000,"W":17000},{"t":2010.7,"P":10000,"W":10000},{"t":2010.75,"P":5000,"W":5000},{"t":2010.82,"P":3500,"W":3500},{"t":2011.3,"P":3200,"W":3200},{"t":2011.35,"P":2000,"W":1800},{"t":2011.38,"P":300,"W":300},
{"t":2011.4,"P":2000,"W":3000},{"t":2011.43,"P":6000,"W":7000},{"t":2011.47,"P":10000,"W":10000},{"t":2011.51,"P":14000,"W":13000},{"t":2011.55,"P":22000,"W":20000},{"t":2011.58,"P":28000,"W":25000},{"t":2011.61,"P":34000,"W":30000},{"t":2011.63,"P":28000,"W":26000},{"t":2011.66,"P":18000,"W":17000},{"t":2011.7,"P":11000,"W":10000},{"t":2011.75,"P":8000,"W":7500},{"t":2011.82,"P":7000,"W":6800},{"t":2012.28,"P":6800,"W":6500},{"t":2012.33,"P":5000,"W":5000},{"t":2012.36,"P":2000,"W":2000},{"t":2012.38,"P":300,"W":300},
{"t":2012.4,"P":3000,"W":4000},{"t":2012.43,"P":7000,"W":8000},{"t":2012.47,"P":13000,"W":14000},{"t":2012.51,"P":20000,"W":22000},{"t":2012.54,"P":23000,"W":23000},{"t":2012.57,"P":30000,"W":27000},{"t":2012.59,"P":32500,"W":29000},{"t":2012.61,"P":27000,"W":25000},{"t":2012.64,"P":16000,"W":15000},{"t":2012.68,"P":9000,"W":8500},{"t":2012.73,"P":6000,"W":5500},{"t":2012.8,"P":4500,"W":4500},{"t":2013.3,"P":4200,"W":4200},{"t":2013.34,"P":3000,"W":3000},{"t":2013.36,"P":1000,"W":1000},{"t":2013.38,"P":300,"W":300},
{"t":2013.4,"P":4000,"W":5000},{"t":2013.43,"P":8000,"W":10000},{"t":2013.47,"P":13000,"W":20000},{"t":2013.5,"P":20000,"W":38000},{"t":2013.52,"P":26000,"W":50000},{"t":2013.54,"P":29000,"W":59000},{"t":2013.56,"P":22000,"W":40000},{"t":2013.59,"P":16000,"W":20000},{"t":2013.62,"P":12000,"W":13000},{"t":2013.65,"P":20000,"W":24000},{"t":2013.68,"P":22000,"W":25000},{"t":2013.71,"P":12000,"W":15000},{"t":2013.75,"P":6000,"W":7000},{"t":2013.81,"P":3500,"W":4000},{"t":2014.33,"P":3200,"W":3500},{"t":2014.36,"P":2000,"W":2000},{"t":2014.39,"P":300,"W":300},
{"t":2014.41,"P":4000,"W":5000},{"t":2014.44,"P":9000,"W":13000},{"t":2014.47,"P":14000,"W":20000},{"t":2014.5,"P":17000,"W":26000},{"t":2014.52,"P":18000,"W":28000},{"t":2014.55,"P":17000,"W":24000},{"t":2014.58,"P":16000,"W":25000},{"t":2014.62,"P":16500,"W":23000},{"t":2014.66,"P":15000,"W":23000},{"t":2014.69,"P":10000,"W":18000},{"t":2014.73,"P":6000,"W":11000},{"t":2014.78,"P":5000,"W":8500},{"t":2014.85,"P":4600,"W":7800},{"t":2015.3,"P":4400,"W":7500},{"t":2015.34,"P":3000,"W":5000},{"t":2015.36,"P":1500,"W":2000},{"t":2015.38,"P":300,"W":300},
{"t":2015.4,"P":5000,"W":6000},{"t":2015.43,"P":10000,"W":12000},{"t":2015.47,"P":16000,"W":18000},{"t":2015.5,"P":22000,"W":25000},{"t":2015.53,"P":26000,"W":29000},{"t":2015.56,"P":22000,"W":26000},{"t":2015.6,"P":21000,"W":25000},{"t":2015.64,"P":22000,"W":26000},{"t":2015.67,"P":17000,"W":20000},{"t":2015.71,"P":10000,"W":11000},{"t":2015.76,"P":6500,"W":7000},{"t":2015.83,"P":5200,"W":5300},{"t":2016.28,"P":5000,"W":5000},{"t":2016.32,"P":3000,"W":3000},{"t":2016.35,"P":500,"W":500},
{"t":2016.37,"P":3000,"W":4000},{"t":2016.41,"P":8000,"W":9000},{"t":2016.45,"P":14000,"W":13000},{"t":2016.49,"P":20000,"W":20000},{"t":2016.53,"P":24000,"W":22000},{"t":2016.57,"P":29000,"W":26000},{"t":2016.6,"P":33000,"W":28000},{"t":2016.62,"P":36000,"W":30000},{"t":2016.64,"P":30000,"W":26000},{"t":2016.67,"P":20000,"W":18000},{"t":2016.71,"P":11000,"W":10000},{"t":2016.76,"P":7000,"W":6500},{"t":2016.83,"P":6000,"W":5500},{"t":2017.3,"P":5800,"W":5300},{"t":2017.34,"P":4000,"W":3500},{"t":2017.37,"P":1500,"W":1200},{"t":2017.38,"P":500,"W":400},
{"t":2017.4,"P":3000,"W":5000},{"t":2017.43,"P":7000,"W":12000},{"t":2017.47,"P":12000,"W":22000},{"t":2017.51,"P":18000,"W":34000},{"t":2017.54,"P":21000,"W":45000},{"t":2017.57,"P":22000,"W":40000},{"t":2017.6,"P":25000,"W":38000},{"t":2017.63,"P":19000,"W":30000},{"t":2017.66,"P":13000,"W":24000},{"t":2017.69,"P":10000,"W":18000},{"t":2017.72,"P":8000,"W":14000},{"t":2017.74,"P":8000,"W":16000}
]
},
"vconcat":[
{"title":"Active Mosquitoes","width":448,"height":112,
 "layer":[
  {"data":{"name":"vline"},"mark":{"type":"rule","color":"#D4A3A3","strokeWidth":0.9},"encoding":{"x":{"field":"t","type":"quantitative"}}},
  {"data":{"name":"act"},"transform":[{"fold":["P","W"],"as":["Wetness","v"]}],
   "mark":{"type":"line","strokeWidth":1.7},
   "encoding":{
    "x":{"field":"t","type":"quantitative","scale":{"domain":[2003.73,2018.36],"nice":false,"zero":false},"axis":{"values":[2005,2007,2009,2011,2013,2015,2017],"format":"d","title":null}},
    "y":{"field":"v","type":"quantitative","scale":{"domain":[-2.1,42.8],"nice":false,"zero":false},"axis":{"values":[0,10,20,30,40],"format":"d","title":null}},
    "color":{"field":"Wetness","type":"nominal","scale":{"domain":["P","W"],"range":["#3A76BE","#E69F00"]},"legend":{"title":"Wetness","orient":"none","legendX":113,"legendY":622,"direction":"horizontal","titleOrient":"left","titleBaseline":"middle","titleAnchor":"middle","symbolType":"stroke","symbolSize":100,"symbolStrokeWidth":2,"labelOffset":8,"labelExpr":"datum.label == 'P' ? 'Precipitation' : 'WaterLevel'","columnPadding":8,"titlePadding":10}}}},
  {"data":{"name":"obs"},"mark":{"type":"circle","color":"#111111","size":6,"opacity":0.85},
   "encoding":{"x":{"field":"t","type":"quantitative"},"y":{"field":"n","type":"quantitative"}}}
 ]},
{"title":"Eggs","width":448,"height":112,
 "layer":[
  {"data":{"name":"vline"},"mark":{"type":"rule","color":"#D4A3A3","strokeWidth":0.9},"encoding":{"x":{"field":"t","type":"quantitative"}}},
  {"data":{"name":"egg"},"transform":[{"fold":["P","W"],"as":["Wetness","v"]}],
   "mark":{"type":"line","strokeWidth":1.7},
   "encoding":{
    "x":{"field":"t","type":"quantitative","scale":{"domain":[2003.73,2018.36],"nice":false,"zero":false},"axis":{"values":[2005,2007,2009,2011,2013,2015,2017],"format":"d","title":null}},
    "y":{"field":"v","type":"quantitative","scale":{"domain":[-4200,89900],"nice":false,"zero":false},"axis":{"values":[0,25000,50000,75000],"format":"d","title":"Population Size","titleX":-43,"titleY":133}},
    "color":{"field":"Wetness","type":"nominal"}}}
 ]},
{"title":"Larvae/Pupae","width":448,"height":113,
 "layer":[
  {"data":{"name":"vline"},"mark":{"type":"rule","color":"#D4A3A3","strokeWidth":0.9},"encoding":{"x":{"field":"t","type":"quantitative"}}},
  {"data":{"name":"lar"},"transform":[{"fold":["P","W"],"as":["Wetness","v"]}],
   "mark":{"type":"line","strokeWidth":1.7},
   "encoding":{
    "x":{"field":"t","type":"quantitative","scale":{"domain":[2003.73,2018.36],"nice":false,"zero":false},"axis":{"values":[2005,2007,2009,2011,2013,2015,2017],"format":"d","title":null}},
    "y":{"field":"v","type":"quantitative","scale":{"domain":[-5300,124600],"nice":false,"zero":false},"axis":{"values":[0,30000,60000,90000,120000],"format":"d","title":null}},
    "color":{"field":"Wetness","type":"nominal"}}}
 ]},
{"title":"Total Mosquitoes","width":448,"height":112,
 "layer":[
  {"data":{"name":"vline"},"mark":{"type":"rule","color":"#D4A3A3","strokeWidth":0.9},"encoding":{"x":{"field":"t","type":"quantitative"}}},
  {"data":{"name":"tot"},"transform":[{"fold":["P","W"],"as":["Wetness","v"]}],
   "mark":{"type":"line","strokeWidth":1.7},
   "encoding":{
    "x":{"field":"t","type":"quantitative","scale":{"domain":[2003.73,2018.36],"nice":false,"zero":false},"axis":{"values":[2005,2007,2009,2011,2013,2015,2017],"format":"d","title":"Years"}},
    "y":{"field":"v","type":"quantitative","scale":{"domain":[-2500,62300],"nice":false,"zero":false},"axis":{"values":[0,20000,40000,60000],"format":"d","title":null}},
    "color":{"field":"Wetness","type":"nominal"}}}
 ]}
],
"resolve":{"scale":{"color":"shared"},"legend":{"color":"shared"}},
"config":{
 "font":"Liberation Sans",
 "view":{"stroke":"#9E9E9E","strokeWidth":1.3},
 "axis":{"domain":false,"grid":false,"tickColor":"#333333","tickSize":4,"labelColor":"#333333","labelFontSize":11,"labelPadding":2,"titleFontSize":13,"titleFontWeight":"normal","titleColor":"#1A1A1A","titlePadding":3,"labelFont":"Liberation Sans","titleFont":"Liberation Sans"},
 "title":{"fontSize":11,"fontWeight":"normal","color":"#333333","offset":3,"font":"Liberation Sans"},
 "legend":{"labelFontSize":11,"titleFontSize":13,"titleFontWeight":"normal","labelColor":"#333333","titleColor":"#1A1A1A","labelFont":"Liberation Sans","titleFont":"Liberation Sans"}
}
}
